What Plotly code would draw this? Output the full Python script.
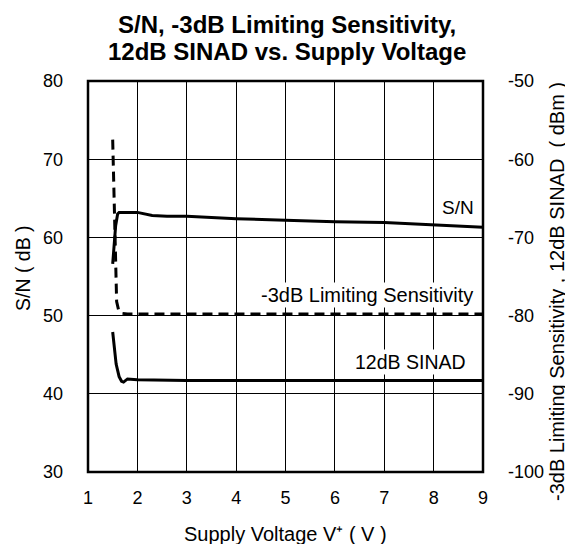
import plotly.graph_objects as go

# S/N (dB), left axis
sn_x = [1.50, 1.52, 1.56, 1.60, 1.63, 1.8, 2.0, 2.3, 2.6, 3.0, 4.0, 5.0, 6.0, 7.0, 8.0, 9.0]
sn_y = [56.6, 58.5, 61.5, 63.0, 63.2, 63.2, 63.2, 62.8, 62.7, 62.7, 62.4, 62.2, 62.0, 61.9, 61.6, 61.3]

# -3dB Limiting Sensitivity (dBm), right axis
ls_x = [1.50, 1.52, 1.54, 1.56, 1.58, 1.62, 1.68, 1.8, 2.0, 3.0, 4.0, 5.0, 6.0, 7.0, 8.0, 9.0]
ls_y = [-57.5, -63.0, -70.0, -75.5, -78.2, -79.3, -79.7, -79.8, -79.8, -79.8, -79.8, -79.8, -79.8, -79.8, -79.8, -79.8]

# 12dB SINAD (dBm), right axis
sinad_x = [1.50, 1.53, 1.57, 1.63, 1.68, 1.72, 1.8, 2.0, 3.0, 4.0, 5.0, 6.0, 7.0, 8.0, 9.0]
sinad_y = [-82.1, -84.0, -86.2, -87.8, -88.4, -88.5, -88.1, -88.2, -88.3, -88.3, -88.3, -88.3, -88.3, -88.3, -88.3]

x_ticks = [1, 2, 3, 4, 5, 6, 7, 8, 9]
left_ticks = [30, 40, 50, 60, 70, 80]
right_ticks = [-100, -90, -80, -70, -60, -50]
right_tick_text = ["-100", "-90", "-80", "-70", "-60", "-50"]

FONT = "Liberation Sans, Arial, sans-serif"

# page has an 8px body margin; compensate
OFF = 8
L, T, PW, PH = 88 - OFF, 81 - OFF, 395, 391
W, H = 573 - OFF, 544 - OFF


def px(x):  # page x -> paper x
    return (x - 88) / PW


def py(y):  # page y -> paper y
    return (472 - y) / PH


fig = go.Figure()
fig.add_trace(go.Scatter(x=sn_x, y=sn_y, mode="lines",
                         line=dict(color="black", width=3), yaxis="y"))
fig.add_trace(go.Scatter(x=ls_x, y=ls_y, mode="lines",
                         line=dict(color="black", width=3, dash="10px,6px"), yaxis="y2"))
fig.add_trace(go.Scatter(x=sinad_x, y=sinad_y, mode="lines",
                         line=dict(color="black", width=3), yaxis="y2"))

fig.update_layout(
    width=W, height=H,
    margin=dict(l=L, r=W - L - PW, t=T, b=H - T - PH),
    paper_bgcolor="white", plot_bgcolor="white",
    showlegend=False,
    font=dict(family=FONT, size=18, color="black"),
    xaxis=dict(range=[1, 9], tickvals=x_ticks, showgrid=True, gridcolor="black",
               gridwidth=1, zeroline=False, ticks="", ticklabelstandoff=13,
               tickfont=dict(size=18)),
    yaxis=dict(range=[30, 80], tickvals=left_ticks, showgrid=True, gridcolor="black",
               gridwidth=1, zeroline=False, ticks="", ticklabelstandoff=24,
               tickfont=dict(size=18)),
    yaxis2=dict(range=[-100, -50], tickvals=right_ticks, ticktext=right_tick_text,
                overlaying="y", side="right",
                showgrid=False, zeroline=False, ticks="", ticklabelstandoff=24,
                tickfont=dict(size=18)),
)

fig.add_shape(type="rect", xref="paper", yref="paper", x0=0, y0=0, x1=1, y1=1,
              line=dict(color="black", width=2.5), layer="above")

# Title (two lines)
fig.add_annotation(text="<b>S/N, -3dB Limiting Sensitivity,</b>",
                   xref="paper", yref="paper", x=px(287), y=py(24.5), xanchor="center",
                   yanchor="middle", showarrow=False, font=dict(size=24, family=FONT))
fig.add_annotation(text="<b>12dB SINAD vs. Supply Voltage</b>",
                   xref="paper", yref="paper", x=px(287), y=py(51.5), xanchor="center",
                   yanchor="middle", showarrow=False, font=dict(size=24, family=FONT))

# Axis titles
fig.add_annotation(text="Supply Voltage V⁺ ( V )", xref="paper", yref="paper",
                   x=px(285.5), y=py(534), xanchor="center", yanchor="middle",
                   showarrow=False, font=dict(size=20))
fig.add_annotation(text="S/N ( dB )", xref="paper", yref="paper",
                   x=px(23), y=py(268), xanchor="center", yanchor="middle",
                   textangle=-90, showarrow=False, font=dict(size=19.5))
fig.add_annotation(text="-3dB Limiting Sensitivity , 12dB SINAD  ( dBm )", xref="paper", yref="paper",
                   x=px(557), y=py(292), xanchor="center", yanchor="middle",
                   textangle=-90, showarrow=False, font=dict(size=20))

# Curve labels
fig.add_annotation(text="S/N", xref="paper", yref="paper", x=px(476), y=py(207),
                   xanchor="right", yanchor="middle", showarrow=False, bgcolor="white",
                   font=dict(size=19))
fig.add_annotation(text="-3dB Limiting Sensitivity", xref="paper", yref="paper",
                   x=px(475), y=py(295),
                   xanchor="right", yanchor="middle", showarrow=False, bgcolor="white",
                   font=dict(size=20))
fig.add_annotation(text="12dB SINAD", xref="paper", yref="paper",
                   x=px(468), y=py(362),
                   xanchor="right", yanchor="middle", showarrow=False, bgcolor="white",
                   font=dict(size=19.5))

fig.write_html("out.html")
